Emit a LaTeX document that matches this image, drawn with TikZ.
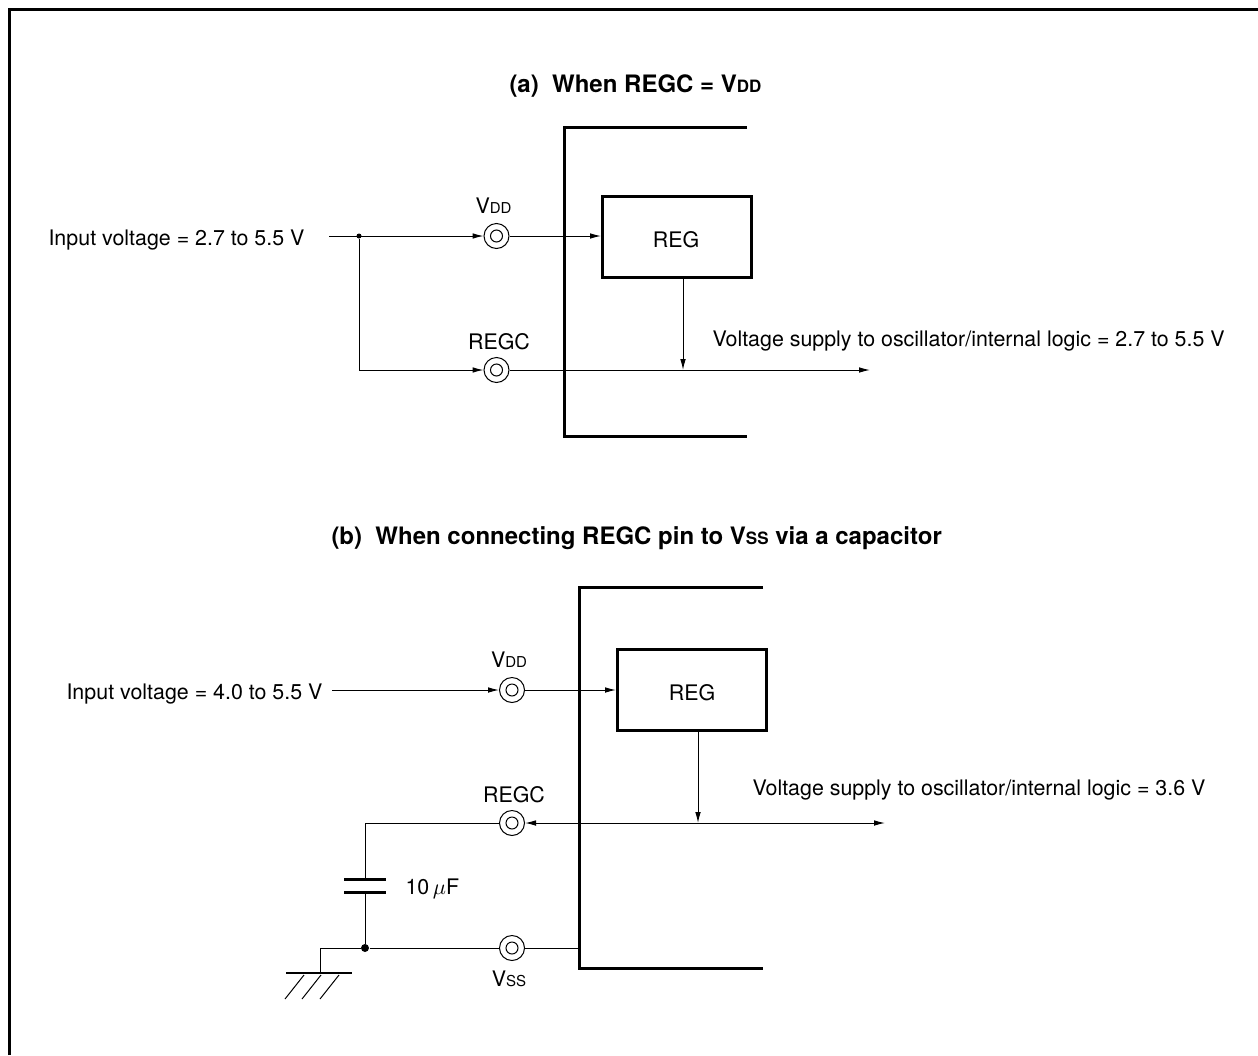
\documentclass[tikz,border=0pt]{standalone}
\usepackage{fontspec}
\setmainfont{TeX Gyre Heros}
\usetikzlibrary{arrows.meta}
\newcommand{\lowcap}[1]{{\fontsize{7.5pt}{9pt}\selectfont #1}}
\newcommand{\lowcapb}[1]{{\fontsize{8.5pt}{10pt}\selectfont #1}}
\begin{document}
\begin{tikzpicture}
[x=0.5pt, y=-0.5pt, font=\fontsize{10.7pt}{13pt}\selectfont, line width=0.5pt,
 >={Latex[length=5.5pt,width=2.8pt]}]
\tikzstyle{pin}=[circle, draw, fill=white, inner sep=0mm, minimum size=12.5pt]
\tikzstyle{pinhole}=[circle, draw, inner sep=0mm, minimum size=6pt]
\tikzstyle{dot}=[circle, fill=black, inner sep=0mm, minimum size=2.5pt]
\tikzstyle{txt}=[inner sep=0mm, anchor=base west]
\tikzstyle{ctxt}=[inner sep=0mm, anchor=base]
\tikzstyle{title}=[txt, font=\fontsize{12pt}{14pt}\selectfont\bfseries]
\tikzstyle{regbox}=[draw, line width=1.5pt, minimum width=74.5pt, minimum height=40.5pt, inner sep=0mm, anchor=north west]
\tikzstyle{heavy}=[line width=1.5pt]
\useasboundingbox (0,0) rectangle (1258,1055);
\draw[heavy] (9.5,1055) -- (9.5,9.5) -- (1258,9.5);

\node[title] (titleA) at (509,92) {(a)\ \ When REGC = V\lowcapb{DD}};
\node[txt] (inA) at (48,245) {Input voltage = 2.7 to 5.5 V};
\node[txt] (supplyA) at (712,346) {Voltage supply to oscillator/internal logic = 2.7 to 5.5 V};
\node[ctxt] (vddA) at (493.5,213) {V\lowcap{DD}};
\node[ctxt] (regcA) at (499,349) {REGC};

\node[pin] (pinVddA) at (496.5,236) {};
\node[pinhole] (holeVddA) at (496.5,236) {};
\node[pin] (pinRegcA) at (496.5,370) {};
\node[pinhole] (holeRegcA) at (496.5,370) {};
\node[regbox] (regA) at (601,195) {};
\node[ctxt] (regAtxt) at (676,247) {REG};
\node[dot] (jA) at (359,236) {};
\coordinate (startA) at (329,236);
\coordinate (cornerA) at (359,370);
\coordinate (endA) at (870,370);
\coordinate (tapA) at (683,370);
\coordinate (regAout) at (683,278);
\coordinate (regAin) at (601,236);

\draw[heavy] (747,127) -- (564,127) -- (564,436) -- (747,436);
\draw[->] (startA) -- (pinVddA);
\draw[->] (pinVddA) -- (regAin);
\draw[->] (jA) -- (cornerA) -- (pinRegcA);
\draw[->] (pinRegcA) -- (endA);
\draw[->] (regAout) -- (tapA);

\node[title] (titleB) at (331,544) {(b)\ \ When connecting REGC pin to V\lowcapb{SS} via a capacitor};
\node[txt] (inB) at (66,699) {Input voltage = 4.0 to 5.5 V};
\node[txt] (supplyB) at (752,795) {Voltage supply to oscillator/internal logic = 3.6 V};
\node[ctxt] (vddB) at (509,667) {V\lowcap{DD}};
\node[ctxt] (regcB) at (514,802) {REGC};
\node[ctxt] (vssB) at (509,986) {V\lowcap{SS}};
\node[txt] (capB) at (405,894) {10\,$\mu$F};

\node[pin] (pinVddB) at (512,690) {};
\node[pinhole] (holeVddB) at (512,690) {};
\node[pin] (pinRegcB) at (512,823) {};
\node[pinhole] (holeRegcB) at (512,823) {};
\node[pin] (pinVssB) at (512,948) {};
\node[pinhole] (holeVssB) at (512,948) {};
\node[regbox] (regB) at (616,648) {};
\node[ctxt] (regBtxt) at (692,700) {REG};
\node[dot, minimum size=4pt] (jB) at (365,948) {};
\coordinate (startB) at (332,690);
\coordinate (regBin) at (616,690);
\coordinate (regBout) at (698,731);
\coordinate (tapB) at (698,823);
\coordinate (endB) at (885,823);
\coordinate (cornerB) at (365,823);
\coordinate (plateT) at (365,879);
\coordinate (plateB) at (365,892);
\coordinate (wallB) at (579,948);
\coordinate (gndCorner) at (320.5,948);
\coordinate (gndTop) at (320.5,973);

\draw[heavy] (763,587) -- (579,587) -- (579,968) -- (763,968);
\draw[->] (startB) -- (pinVddB);
\draw[->] (pinVddB) -- (regBin);
\draw[->] (regBout) -- (tapB);
\draw[<->] (pinRegcB) -- (endB);
\draw (pinRegcB) -- (cornerB) -- (plateT);
\draw (plateB) -- (jB);
\draw (jB) -- (pinVssB) -- (wallB);
\draw (jB) -- (gndCorner) -- (gndTop);
\draw[line width=1.5pt] (344,879) -- (386,879);
\draw[line width=1.5pt] (344,892) -- (386,892);
\draw[line width=1.1pt] (286,973) -- (352,973);
\foreach \xa in {304,321,339}
  \draw (\xa,975) -- ++(-19,24);
\end{tikzpicture}
\end{document}
